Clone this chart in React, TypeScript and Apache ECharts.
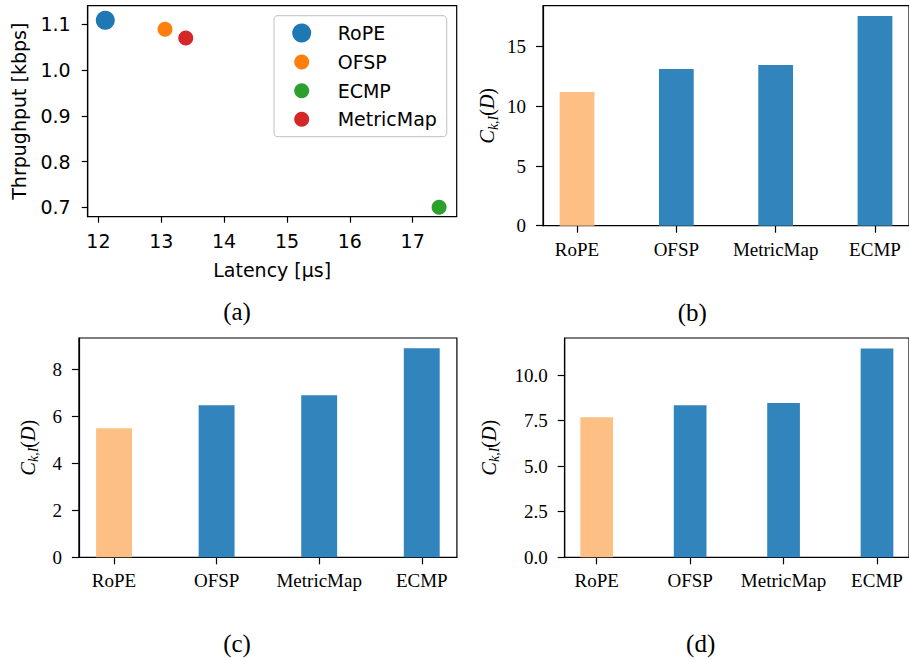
import React, { useEffect, useRef } from "react";
import * as echarts from "echarts";

// ---------- data ----------
const scatterNames = ["RoPE", "OFSP", "ECMP", "MetricMap"];
const latencyUs = [12.11, 13.06, 17.42, 13.39];
const throughputKbps = [1.109, 1.089, 0.7, 1.07];
const latencyTicks = [12, 13, 14, 15, 16, 17];
const throughputTicks = [0.7, 0.8, 0.9, 1.0, 1.1];

const categories = ["RoPE", "OFSP", "MetricMap", "ECMP"];
const valuesB = [11.2, 13.13, 13.47, 17.57];
const valuesC = [5.49, 6.47, 6.89, 8.89];
const valuesD = [7.68, 8.34, 8.46, 11.46];
const ticksB = [0, 5, 10, 15];
const ticksC = [0, 2, 4, 6, 8];
const ticksD = [0, 2.5, 5, 7.5, 10];

// ---------- styles ----------
const SANS = "DejaVu Sans";
const SERIF = "Liberation Serif";
const BLACK = "#000000";
const LINE_W = 1.2;
const scatterColors = ["#1f77b4", "#ff7f0e", "#2ca02c", "#d62728"];
const scatterSizes = [19, 15, 15, 15];
const HIGHLIGHT = "#febf85";
const BASE = "#3185bc";

function valueAxis(
  gridIndex: number,
  min: number,
  max: number,
  ticks: number[],
  fmt: (v: number) => string,
  fontFamily: string,
  margin: number,
  tickLen: number,
  extra: any = {}
) {
  return {
    type: "value",
    gridIndex,
    min,
    max,
    axisLine: { show: true, onZero: false, lineStyle: { color: BLACK, width: LINE_W } },
    axisTick: { show: true, length: tickLen, customValues: ticks, lineStyle: { color: BLACK, width: LINE_W } },
    axisLabel: {
      customValues: ticks,
      formatter: fmt,
      fontFamily,
      fontSize: 19,
      color: BLACK,
      margin,
      showMinLabel: true,
      showMaxLabel: true,
    },
    splitLine: { show: false },
    ...extra,
  };
}

const ckName = "{c|C}{s|k,I}{p|(}{c|D}{p|)}";
const ckNameStyle = {
  color: BLACK,
  rich: {
    c: { fontFamily: SERIF, fontStyle: "italic", fontSize: 20, lineHeight: 26, color: BLACK },
    s: { fontFamily: SERIF, fontStyle: "italic", fontSize: 14, lineHeight: 12, verticalAlign: "bottom", color: BLACK },
    p: { fontFamily: SERIF, fontSize: 20, lineHeight: 26, color: BLACK },
  },
};

const catPositions = categories.map((_, i) => i);
const catFmt = (v: number) => categories[Math.round(v)] ?? "";

function barSeries(values: number[], idx: number) {
  return {
    type: "bar",
    xAxisIndex: idx,
    yAxisIndex: idx,
    barWidth: "35%",
    data: values.map((v, i) => ({
      value: [catPositions[i], v],
      itemStyle: { color: i === 0 ? HIGHLIGHT : BASE },
    })),
  };
}

const gridStyle = { show: true, borderColor: BLACK, borderWidth: LINE_W, backgroundColor: "transparent" };
const legendText = { fontFamily: SANS, fontSize: 19, color: BLACK, lineHeight: 20 };

export default function App() {
  const ref = useRef<HTMLDivElement>(null);

  useEffect(() => {
    if (!ref.current) return;
    const chart = echarts.init(ref.current, undefined, { renderer: "svg" });

    const option: any = {
      animation: false,
      backgroundColor: "#ffffff",
      grid: [
        { left: 87.7, top: 5.7, width: 369, height: 211, ...gridStyle },
        { left: 543, top: 5.7, width: 368.5, height: 220, ...gridStyle },
        { left: 78.9, top: 338, width: 378, height: 219.3, ...gridStyle },
        { left: 564.7, top: 338, width: 355.3, height: 219.3, ...gridStyle },
      ],
      xAxis: [
        valueAxis(0, 11.83, 17.7, latencyTicks, (v) => String(v), SANS, 15, 6, {
          name: "Latency [µs]",
          nameLocation: "middle",
          nameGap: 44,
          nameTextStyle: { fontFamily: SANS, fontSize: 19, color: BLACK },
        }),
        valueAxis(1, -0.3425, 3.3425, catPositions, catFmt, SERIF, 14, 7),
        valueAxis(2, -0.3425, 3.3425, catPositions, catFmt, SERIF, 14, 7),
        valueAxis(3, -0.3425, 3.3425, catPositions, catFmt, SERIF, 14, 7),
      ],
      yAxis: [
        valueAxis(0, 0.6795, 1.1407, throughputTicks, (v) => v.toFixed(1), SANS, 17, 6, {
          name: "Thrpughput [kbps]",
          nameLocation: "middle",
          nameGap: 59,
          nameTextStyle: { fontFamily: SANS, fontSize: 19, color: BLACK },
        }),
        valueAxis(1, 0, 18.44, ticksB, (v) => String(v), SERIF, 17, 7, {
          name: ckName,
          nameLocation: "middle",
          nameGap: 43,
          nameTextStyle: ckNameStyle,
        }),
        valueAxis(2, 0, 9.33, ticksC, (v) => String(v), SERIF, 17, 7, {
          name: ckName,
          nameLocation: "middle",
          nameGap: 38,
          nameTextStyle: ckNameStyle,
        }),
        valueAxis(3, 0, 12.03, ticksD, (v) => v.toFixed(1), SERIF, 17, 7, {
          name: ckName,
          nameLocation: "middle",
          nameGap: 63,
          nameTextStyle: ckNameStyle,
        }),
      ],
      legend: [
        {
          data: [scatterNames[0]],
          orient: "vertical",
          left: 292.2,
          top: 23,
          padding: 0,
          itemWidth: 62,
          itemHeight: scatterSizes[0],
          icon: "circle",
          z: 10,
          textStyle: legendText,
        },
        {
          data: scatterNames.slice(1),
          orient: "vertical",
          left: 294.2,
          top: 52,
          padding: 0,
          itemGap: 8.65,
          itemWidth: 62,
          itemHeight: scatterSizes[1],
          icon: "circle",
          z: 10,
          textStyle: legendText,
        },
      ],
      graphic: [
        {
          type: "rect",
          z: 3,
          shape: { x: 274, y: 15.7, width: 172.7, height: 121, r: 4 },
          style: { fill: "#ffffff", stroke: "#cccccc", lineWidth: 1.2 },
        },
        { type: "text", x: 237, y: 311.7, style: { text: "(a)", fontFamily: SERIF, fontSize: 25, fill: BLACK, align: "center", verticalAlign: "middle" } },
        { type: "text", x: 692.3, y: 312, style: { text: "(b)", fontFamily: SERIF, fontSize: 25, fill: BLACK, align: "center", verticalAlign: "middle" } },
        { type: "text", x: 237, y: 643.3, style: { text: "(c)", fontFamily: SERIF, fontSize: 25, fill: BLACK, align: "center", verticalAlign: "middle" } },
        { type: "text", x: 700.7, y: 643, style: { text: "(d)", fontFamily: SERIF, fontSize: 25, fill: BLACK, align: "center", verticalAlign: "middle" } },
      ],
      series: [
        ...scatterNames.map((name, i) => ({
          type: "scatter",
          name,
          xAxisIndex: 0,
          yAxisIndex: 0,
          symbol: "circle",
          symbolSize: scatterSizes[i],
          itemStyle: { color: scatterColors[i], opacity: 1 },
          data: [[latencyUs[i], throughputKbps[i]]],
        })),
        barSeries(valuesB, 1),
        barSeries(valuesC, 2),
        barSeries(valuesD, 3),
      ],
    };

    chart.setOption(option);
    return () => chart.dispose();
  }, []);

  return (
    <div
      style={{
        position: "fixed",
        left: 0,
        top: 0,
        width: 909,
        height: 661,
        overflow: "hidden",
        background: "#ffffff",
      }}
    >
      <div ref={ref} style={{ width: 909, height: 661 }} />
    </div>
  );
}
